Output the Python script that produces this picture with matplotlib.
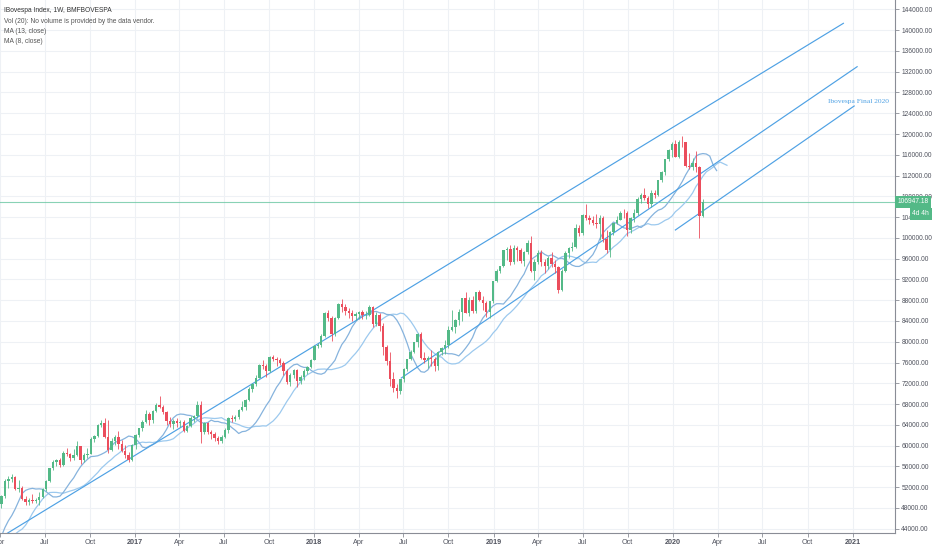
import numpy as np
import pandas as pd
import matplotlib
matplotlib.use("Agg")
import matplotlib.pyplot as plt
import matplotlib.dates as mdates
from matplotlib import transforms

# weekly candles, IBOVESPA, thousands of points (week starting Monday)
first_week = "2016-03-28"
open_k = [
    50.8, 48.8, 50.3, 53.2, 53.6, 53.9, 51.7, 51.9, 49.7, 49.1, 49.6, 49.4, 49.5, 50.1,
    51.6, 53.1, 55.6, 56.9, 57.3, 56.2, 58.6, 58.3, 57.7, 58.2, 59.9, 57.3, 58.1, 58.4,
    61.3, 61.8, 64.0, 64.3, 61.6, 59.2, 60.9, 61.6, 60.3, 58.9, 58.1, 57.2,
    # 2017
    60.2, 62.0, 63.3, 64.6, 66.1, 64.9, 66.6, 67.8, 67.5, 66.4, 64.7, 64.2, 64.8, 64.3,
    64.6, 62.8, 63.8, 65.4, 65.7, 67.9, 62.6, 64.4, 62.7, 62.2, 61.4, 60.8, 61.6, 63.0,
    65.4, 65.1, 65.5, 66.9, 67.4, 68.7, 70.9, 71.9, 73.1, 75.6, 75.4, 74.3, 77.0, 76.6,
    76.4, 76.0, 74.3, 72.2, 73.6, 74.5, 72.5, 73.3, 74.4, 75.2,
    # 2018
    76.4, 79.1, 79.4, 81.2, 85.5, 84.6, 81.4, 84.5, 87.3, 86.7, 85.9, 85.6, 85.0, 85.4,
    85.7, 85.1, 85.2, 86.7, 83.4, 85.2, 83.0, 78.9, 76.3, 72.9, 71.0, 70.6, 72.8, 74.8,
    76.6, 78.0, 79.9, 81.4, 76.8, 76.4, 76.9, 76.7, 75.4, 78.0, 78.7, 79.3, 82.3, 82.9,
    84.2, 85.7, 88.4, 85.6, 88.0, 85.9, 89.5, 88.1, 87.4, 85.7, 87.9,
    # 2019
    91.7, 93.7, 94.5, 97.7, 97.9, 95.3, 98.0, 97.6, 95.6, 97.3, 99.1, 93.7, 95.4, 97.1,
    95.3, 94.6, 96.2, 95.0, 94.3, 90.0, 93.6, 97.0, 98.0, 98.3, 102.0, 101.0, 104.5, 103.9,
    103.5, 102.8, 102.7, 103.9, 99.8, 97.7, 101.1, 102.9, 103.5, 104.8, 104.7, 101.5, 103.8, 104.7,
    107.4, 108.2, 107.6, 106.6, 108.7, 108.2, 111.1, 112.6, 115.1, 116.9,
    # 2020
    118.0, 115.5, 118.5, 118.4, 113.8, 113.7, 114.4, 113.7, 104.2,
]
high_k = [
    51.3, 50.5, 53.5, 54.1, 54.6, 54.2, 53.3, 52.2, 50.3, 50.0, 50.6, 50.0, 51.0, 51.9,
    53.4, 55.7, 57.2, 57.5, 57.6, 59.0, 59.5, 58.6, 59.4, 60.9, 60.0, 58.6, 59.5, 61.6,
    62.0, 64.2, 64.9, 65.3, 64.9, 61.4, 62.1, 62.8, 61.0, 60.2, 58.7, 60.3,
    62.2, 63.4, 64.9, 66.8, 66.5, 66.8, 68.3, 69.5, 67.8, 66.6, 65.5, 65.2, 65.4, 65.0,
    64.9, 64.0, 65.7, 65.9, 68.6, 68.6, 64.6, 64.6, 63.0, 62.7, 61.8, 62.0, 63.3, 65.5,
    65.8, 65.9, 67.1, 68.5, 68.9, 71.3, 72.0, 73.6, 75.7, 76.4, 75.7, 77.2, 77.4, 77.1,
    76.9, 76.3, 74.8, 73.9, 74.8, 74.8, 73.6, 74.8, 75.4, 76.6,
    79.4, 79.8, 81.5, 85.7, 86.2, 85.0, 84.7, 87.5, 88.3, 87.2, 86.5, 86.2, 85.8, 86.0,
    86.1, 85.9, 87.0, 86.9, 85.8, 85.5, 83.6, 79.4, 78.0, 74.2, 71.9, 72.9, 75.0, 76.7,
    78.5, 80.0, 81.6, 81.8, 78.0, 77.2, 78.5, 77.0, 78.2, 79.0, 80.3, 83.0, 86.1, 84.3,
    86.4, 88.4, 89.6, 88.6, 88.9, 89.6, 90.0, 88.8, 87.8, 87.9, 91.7,
    94.0, 94.6, 97.7, 98.3, 98.6, 98.6, 98.5, 98.0, 97.4, 99.6, 100.4, 95.9, 97.7, 97.6,
    95.9, 96.6, 97.3, 95.8, 94.6, 94.1, 97.4, 98.3, 99.3, 102.6, 102.5, 104.6, 106.6, 104.4,
    104.3, 104.6, 104.4, 104.2, 101.5, 101.3, 102.9, 104.2, 105.1, 105.5, 105.2, 104.0, 105.6, 107.8,
    108.6, 109.6, 108.0, 109.2, 109.2, 111.2, 112.8, 115.2, 117.2, 118.4,
    118.9, 118.8, 119.6, 118.5, 116.3, 115.3, 116.8, 113.9, 107.4,
]
low_k = [
    48.4, 48.0, 49.9, 51.8, 52.9, 51.5, 51.0, 49.6, 48.5, 48.5, 49.0, 48.9, 48.5, 49.9,
    51.2, 52.9, 55.3, 56.1, 55.9, 56.0, 58.0, 57.0, 57.2, 58.0, 56.5, 56.9, 57.6, 58.3,
    60.7, 61.6, 63.6, 61.5, 58.6, 58.9, 60.2, 59.3, 58.7, 57.7, 56.9, 57.1,
    59.4, 61.6, 62.9, 64.4, 64.0, 64.3, 66.5, 67.2, 66.0, 64.0, 63.6, 63.2, 63.5, 63.6,
    62.6, 62.6, 63.5, 64.5, 65.4, 60.5, 62.3, 62.3, 61.2, 60.9, 60.3, 60.5, 61.4, 62.4,
    64.6, 64.8, 65.2, 66.6, 66.8, 68.5, 70.4, 71.5, 73.0, 74.8, 73.2, 74.2, 76.2, 75.4,
    75.5, 73.6, 71.9, 71.5, 73.0, 71.2, 71.9, 72.7, 73.8, 75.0,
    76.4, 78.7, 79.0, 80.9, 83.9, 80.2, 81.2, 84.3, 85.7, 85.2, 84.6, 84.0, 84.2, 84.3,
    84.4, 84.3, 84.9, 82.9, 83.0, 82.0, 77.4, 75.5, 71.5, 70.4, 69.1, 69.9, 72.3, 74.4,
    76.4, 77.9, 79.0, 76.6, 75.9, 74.9, 75.4, 74.3, 74.6, 77.5, 77.7, 78.7, 82.0, 81.7,
    83.3, 83.9, 85.6, 85.0, 85.5, 85.5, 87.8, 86.1, 84.8, 84.5, 87.5,
    91.5, 93.3, 94.4, 95.8, 94.7, 95.0, 95.5, 95.2, 94.6, 96.9, 93.4, 91.9, 94.9, 94.5,
    93.3, 94.0, 94.3, 93.3, 89.4, 89.7, 93.5, 96.2, 97.4, 98.0, 100.3, 100.6, 103.4, 102.6,
    102.5, 101.9, 99.5, 99.3, 97.1, 96.4, 100.5, 102.6, 103.4, 103.9, 100.4, 101.0, 103.1, 104.5,
    106.7, 107.3, 105.7, 106.0, 107.6, 108.0, 110.8, 112.2, 114.9, 115.6,
    115.5, 115.4, 117.5, 113.7, 113.2, 113.1, 112.7, 99.9, 104.0,
]
close_k = [
    48.8, 50.3, 53.2, 53.6, 53.9, 51.7, 51.9, 49.7, 49.1, 49.6, 49.4, 49.5, 50.1, 51.6,
    53.1, 55.6, 56.9, 57.3, 56.2, 58.6, 58.3, 57.7, 58.2, 59.9, 57.3, 58.1, 58.4, 61.3,
    61.8, 64.0, 64.3, 61.6, 59.2, 60.9, 61.6, 60.3, 58.9, 58.1, 57.2, 60.2,
    62.0, 63.3, 64.6, 66.1, 64.9, 66.6, 67.8, 67.5, 66.4, 64.7, 64.2, 64.8, 64.3, 64.6,
    62.8, 63.8, 65.4, 65.7, 67.9, 62.6, 64.4, 62.7, 62.2, 61.4, 60.8, 61.6, 63.0, 65.4,
    65.1, 65.5, 66.9, 67.4, 68.7, 70.9, 71.9, 73.1, 75.6, 75.4, 74.3, 77.0, 76.6, 76.4,
    76.0, 74.3, 72.2, 73.6, 74.5, 72.5, 73.3, 74.4, 75.2, 76.4,
    79.1, 79.4, 81.2, 85.5, 84.6, 81.4, 84.5, 87.3, 86.7, 85.9, 85.6, 85.0, 85.4, 85.7,
    85.1, 85.2, 86.7, 83.4, 85.2, 83.0, 78.9, 76.3, 72.9, 71.0, 70.6, 72.8, 74.8, 76.6,
    78.0, 79.9, 81.4, 76.8, 76.4, 76.9, 76.7, 75.4, 78.0, 78.7, 79.3, 82.3, 82.9, 84.2,
    85.7, 88.4, 85.6, 88.0, 85.9, 89.5, 88.1, 87.4, 85.7, 87.9, 91.7,
    93.7, 94.5, 97.7, 97.9, 95.3, 98.0, 97.6, 95.6, 97.3, 99.1, 93.7, 95.4, 97.1, 95.3,
    94.6, 96.2, 95.0, 94.3, 90.0, 93.6, 97.0, 98.0, 98.3, 102.0, 101.0, 104.5, 103.9, 103.5,
    102.8, 102.7, 103.9, 99.8, 97.7, 101.1, 102.9, 103.5, 104.8, 104.7, 101.5, 103.8, 104.7, 107.4,
    108.2, 107.6, 106.6, 108.7, 108.2, 111.1, 112.6, 115.1, 116.9, 118.0,
    115.5, 118.5, 118.4, 113.8, 113.7, 114.4, 113.7, 104.2, 106.94718,
]

# closes before the visible window, only needed to seed the moving averages
early_week = "2015-11-02"
early_close_k = [
    46.0, 45.9, 47.6, 46.9, 45.4, 45.1, 44.3, 43.7, 43.3, 40.6, 39.5, 37.6,
    40.4, 40.6, 40.1, 41.5, 41.6, 49.1, 49.6, 50.8, 50.8,
]

ma_periods = [13, 8]
ma_shift_weeks = [7, 4]
ma_colors = ["#9cc9ee", "#86b3dd"]

# trend lines drawn on the chart: (start date, start price, end date, end price)
trend_lines = [
    ("2016-02-26", 40245, "2020-12-13", 141320),
    ("2018-06-27", 73020, "2021-01-10", 132965),
    ("2020-01-06", 101520, "2021-01-04", 125400),
]
note_text = "Ibovespa Final 2020"
note_pos = ("2020-11-12", 126340)

last_price = 106947.18
countdown = "4d 4h"
legend_lines = [
    "IBovespa Index, 1W, BMFBOVESPA",
    "Vol (20): No volume is provided by the data vendor.",
    "MA (13, close)",
    "MA (8, close)",
]

UP, DOWN = "#53b987", "#eb4d5c"
TXT = "#50535e"
plt.rcParams["font.family"] = ["Liberation Sans", "DejaVu Sans"]

o = np.array(open_k) * 1000
h = np.array(high_k) * 1000
l = np.array(low_k) * 1000
c = np.array(close_k) * 1000
dates = pd.date_range(first_week, periods=len(c), freq="7D")
x = mdates.date2num(dates)

fig = plt.figure(figsize=(9.32, 5.5), dpi=100)
ax = fig.add_axes([0, 17 / 550, 895 / 932, 533 / 550])

# candles
cols = np.where(c >= o, UP, DOWN)
ax.vlines(x, l, h, colors=cols, lw=0.6, zorder=3)
body = np.maximum(np.abs(c - o), 120)
ax.bar(x, body, bottom=np.minimum(o, c), width=4.9, color=cols, lw=0, zorder=4)

# moving averages (displaced forward)
all_close = pd.Series(np.concatenate([np.array(early_close_k) * 1000, c]))
all_dates = pd.date_range(early_week, periods=len(all_close), freq="7D")
for n, sh, col in zip(ma_periods, ma_shift_weeks, ma_colors):
    ma = all_close.rolling(n).mean()
    ax.plot(all_dates + pd.Timedelta(weeks=sh), ma, color=col, lw=0.9, zorder=2)

# trend lines + note
for d0, p0, d1, p1 in trend_lines:
    ax.plot(pd.to_datetime([d0, d1]), [p0, p1], color="#4ea1e4", lw=0.85, zorder=2.5)
ax.text(pd.Timestamp(note_pos[0]), note_pos[1], note_text, color="#4ea1e4",
        fontsize=5.4, family="Liberation Serif", va="center", ha="left")

# last price line
ax.axhline(last_price, color="#6cc7a3", lw=0.8, alpha=0.8, zorder=1.5)

# axes limits
left = pd.Timestamp("2017-01-02") - pd.Timedelta(days=269.9)
ax.set_xlim(left, left + pd.Timedelta(days=1816))
ax.set_ylim(43170, 145810)

# x ticks
xt = pd.date_range("2016-04-01", "2021-01-01", freq="3MS")
xlab = [str(d.year) if d.month == 1 else d.strftime("%b") for d in xt]
ax.set_xticks(xt)
ax.set_xticklabels(xlab)
for d, t in zip(xt, ax.get_xticklabels()):
    if d.month == 1:
        t.set_fontweight("bold")

yt = np.arange(44000, 144001, 4000)
ax.set_yticks(yt)
ax.set_yticklabels([f"{v:.2f}" for v in yt])
ax.yaxis.tick_right()

ax.tick_params(axis="both", direction="out", length=3, width=0.6, color="#8a8d96",
               labelcolor=TXT, pad=1.5)
ax.tick_params(axis="x", labelsize=5.2)
ax.tick_params(axis="y", labelsize=4.8)
ax.grid(True, color="#eef1f5", lw=0.8, zorder=0)
ax.set_axisbelow(True)
for s in ["left", "top"]:
    ax.spines[s].set_visible(False)
for s in ["right", "bottom"]:
    ax.spines[s].set_color("#8a8d96")
    ax.spines[s].set_linewidth(0.8)

# price label and countdown on the scale
yax = ax.get_yaxis_transform()
ax.text(1.003, last_price, f"{last_price:.2f}", transform=yax, ha="left", va="center",
        fontsize=4.8, color="white", clip_on=False, zorder=10,
        bbox=dict(boxstyle="square,pad=0.4", fc=UP, ec="none"))
below = transforms.offset_copy(yax, fig=fig, x=0, y=-12, units="dots")
ax.text(1.0195, last_price, countdown, transform=below, ha="left", va="center",
        fontsize=4.8, color="white", clip_on=False, zorder=10,
        bbox=dict(boxstyle="square,pad=0.4", fc=UP, ec="none"))

# legend text top-left
for i, s in enumerate(legend_lines):
    fig.text(4 / 932, 1 - (11 + 10.3 * i) / 550, s, fontsize=4.8,
             color="#333333" if i == 0 else "#555555", va="center", ha="left")

fig.savefig("out.png", dpi=100, facecolor="white")
